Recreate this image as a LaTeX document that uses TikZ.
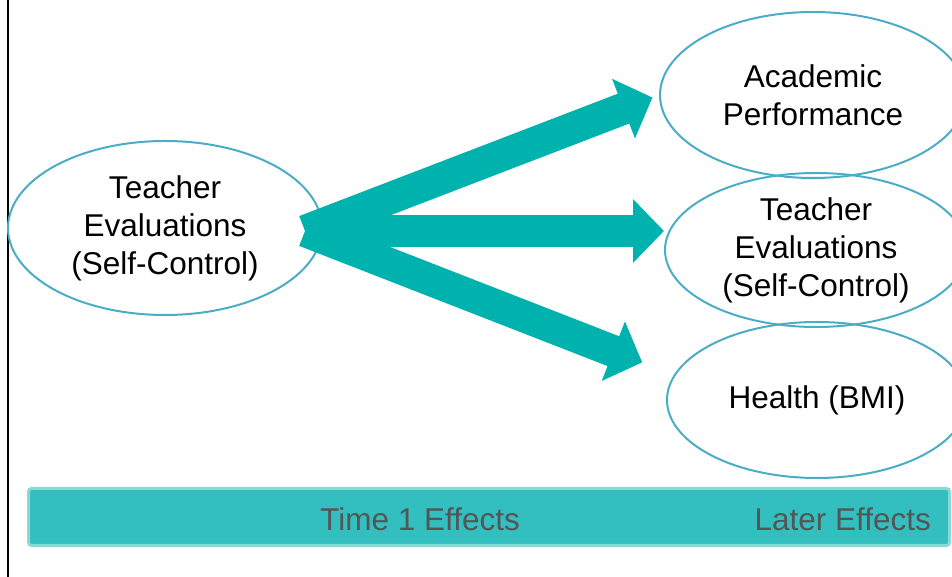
\documentclass[tikz,border=0pt]{standalone}
\usepackage{fontspec}
\setmainfont{Liberation Sans}
\usetikzlibrary{arrows.meta,shapes.geometric}
\definecolor{arrowteal}{HTML}{00B2AE}
\definecolor{ringblue}{HTML}{4BACC6}
\definecolor{bandteal}{HTML}{33BFC0}
\definecolor{bandedge}{HTML}{8AD8D8}
\definecolor{bandtext}{HTML}{555555}

\begin{document}
\begin{tikzpicture}[x=1pt,y=1pt,
  every node/.style={font=\fontsize{31.5}{38}\selectfont,inner sep=0pt},
  measure/.style={ellipse,draw=ringblue,line width=2pt,align=center},
  effect/.style={arrowteal,line width=32pt,-{Triangle[width=62pt,length=31pt]}}]
 \useasboundingbox (0,0) rectangle (952,577);
 \clip (0,0) rectangle (952,577);
 \draw [black,line width=2pt] (8,0) -- (8,577);
 % time 1
 \node (T1) [measure,minimum width=314,minimum height=174] at (165,349) {Teacher\\Evaluations\\(Self-Control)};
 % later outcomes
 \node (A2) [measure,minimum width=306,minimum height=166] at (813,482) {Academic\\Performance};
 \node (T2) [measure,minimum width=302,minimum height=154] at (816,327) {Teacher\\Evaluations\\(Self-Control)};
 \node (H2) [measure,minimum width=300,minimum height=156] at (817,177) {Health (BMI)};
 \coordinate (hub) at (305,346);
 \draw [effect,shorten >=7pt] (hub) -- (A2.west);
 \draw [effect] (hub) -- (hub -| T2.west);
 \draw [effect,shorten >=34pt] (hub) -- (H2.170);
 % time line
 \node (band) [fill=bandteal,draw=bandedge,line width=3pt,rounded corners=3pt,
   minimum width=921,minimum height=57,anchor=south west] at (27,30) {};
 \node (now) [text=bandtext] at (420,58) {Time 1 Effects};
 \node (later) [text=bandtext,anchor=east] at (931,58) {Later Effects};
\end{tikzpicture}
\end{document}
